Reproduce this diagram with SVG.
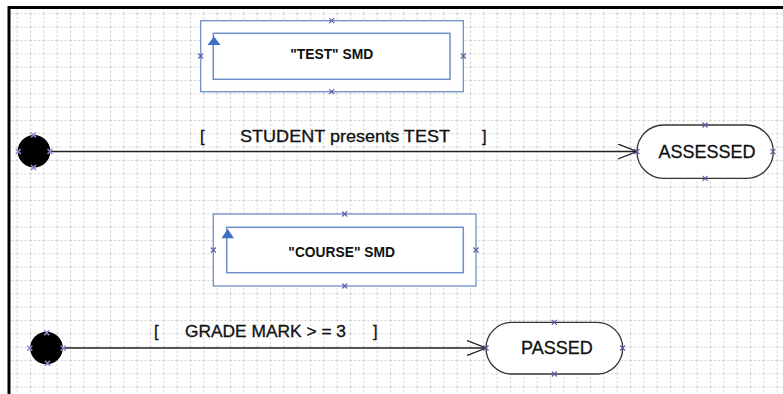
<svg xmlns="http://www.w3.org/2000/svg" width="783" height="394" viewBox="0 0 783 394">
<style>
.frame{stroke:#000;stroke-width:3;fill:none}
.smdOuter{fill:#fff;stroke:#6d8fc9;stroke-width:1.3}
.smdInner{fill:#fff;stroke:#6d8fc9;stroke-width:1.5}
.tri{fill:#3b70c6}
.pill{fill:#fff;stroke:#333;stroke-width:1.3}
.init{fill:#000}
.conn{stroke:#222;stroke-width:1.3;fill:none}
.xm{stroke:#5a5aa8;stroke-width:1.1;fill:none}
.xc{stroke:#8a8ad0;stroke-width:1.6;fill:none}
.smdText{font-family:"Liberation Sans",Arial,sans-serif;font-weight:bold;font-size:15.5px;fill:#111;text-anchor:middle}
.stateText{font-family:"Liberation Sans",Arial,sans-serif;font-size:18px;fill:#111;text-anchor:middle;stroke:#111;stroke-width:0.3}
.guard{font-family:"Liberation Sans",Arial,sans-serif;font-size:16.5px;fill:#111;stroke:#111;stroke-width:0.3}
</style>
<defs>
<pattern id="grid" width="13.333" height="13.333" x="3.33" y="0" patternUnits="userSpaceOnUse">
<path d="M0 0.5 H13.333 M0.5 0 V13.333" stroke="#cfcfcf" stroke-width="1" stroke-dasharray="2,2" fill="none"/>
</pattern>
<path id="xm" d="M-2.5 -2.5 L2.5 2.5 M-2.5 2.5 L2.5 -2.5"/>
<marker id="open" viewBox="0 0 19 16" refX="19" refY="8" markerWidth="19" markerHeight="16" markerUnits="userSpaceOnUse" orient="auto">
<path d="M0 0.5 L19 8 L0 15.5" fill="none" stroke="#222" stroke-width="1.3"/>
</marker>
</defs>
<rect width="783" height="394" fill="#fff"/>
<rect x="10" y="9" width="773" height="385" fill="url(#grid)"/>
<path class="frame" d="M9 394 V7.5 H783"/>

<g id="connectors">
<path class="conn" d="M50 151.5 H637" marker-end="url(#open)"/>
<path class="conn" d="M63 348 H486" marker-end="url(#open)"/>
<g id="label-student">
<text class="guard" x="200" y="142">[</text>
<text class="guard" x="240" y="142" textLength="210" lengthAdjust="spacingAndGlyphs">STUDENT presents TEST</text>
<text class="guard" x="482" y="142">]</text>
</g>
<g id="label-grade">
<text class="guard" x="154" y="337">[</text>
<text class="guard" x="185" y="337" textLength="161" lengthAdjust="spacingAndGlyphs">GRADE MARK &gt; = 3</text>
<text class="guard" x="373" y="337">]</text>
</g>
</g>

<g id="test-smd">
<rect class="smdOuter" x="200.7" y="20.7" width="262.6" height="71"/>
<rect class="smdInner" x="213.3" y="33.3" width="236.7" height="46"/>
<path class="tri" d="M214 36.5 L220.5 45 L207.5 45 Z"/>
<text class="smdText" x="331.7" y="59.3" textLength="83" lengthAdjust="spacingAndGlyphs">"TEST" SMD</text>
<g class="xm">
<use href="#xm" x="331.7" y="20.7"/><use href="#xm" x="331.7" y="91.7"/>
<use href="#xm" x="200.7" y="56"/><use href="#xm" x="463.3" y="56"/>
</g>
</g>

<g id="course-smd">
<rect class="smdOuter" x="213.3" y="214" width="262.7" height="72"/>
<rect class="smdInner" x="226.7" y="227.3" width="236.6" height="45.4"/>
<path class="tri" d="M227.7 229 L234 238.3 L221.4 238.3 Z"/>
<text class="smdText" x="341.7" y="256.7" textLength="106.7" lengthAdjust="spacingAndGlyphs">"COURSE" SMD</text>
<g class="xm">
<use href="#xm" x="344.7" y="214"/><use href="#xm" x="344.7" y="286"/>
<use href="#xm" x="213.3" y="250"/><use href="#xm" x="476" y="250"/>
</g>
</g>

<g id="initial-1">
<circle class="init" cx="34" cy="151.3" r="16.3"/>
<g class="xc">
<use href="#xm" x="33.5" y="135"/><use href="#xm" x="33.5" y="167.5"/>
<use href="#xm" x="18.3" y="151.5"/><use href="#xm" x="50" y="151.5"/>
</g>
</g>

<g id="initial-2">
<circle class="init" cx="46.5" cy="348" r="16.3"/>
<g class="xc">
<use href="#xm" x="46.7" y="332.7"/><use href="#xm" x="47.5" y="363.3"/>
<use href="#xm" x="29.8" y="348.3"/><use href="#xm" x="63.3" y="348.3"/>
</g>
</g>

<g id="assessed">
<rect class="pill" x="637" y="125" width="136.3" height="53.3" rx="26.6" ry="26.6"/>
<text class="stateText" x="707" y="158.3">ASSESSED</text>
<g class="xm">
<use href="#xm" x="705" y="125"/><use href="#xm" x="705" y="178.3"/>
<use href="#xm" x="637" y="151.7"/><use href="#xm" x="773" y="151.7"/>
</g>
</g>

<g id="passed">
<rect class="pill" x="486" y="322.3" width="136.7" height="51.7" rx="25.8" ry="25.8"/>
<text class="stateText" x="556.9" y="354">PASSED</text>
<g class="xm">
<use href="#xm" x="554.3" y="322.3"/><use href="#xm" x="554.3" y="374"/>
<use href="#xm" x="486" y="348"/><use href="#xm" x="622.5" y="348"/>
</g>
</g>
</svg>
